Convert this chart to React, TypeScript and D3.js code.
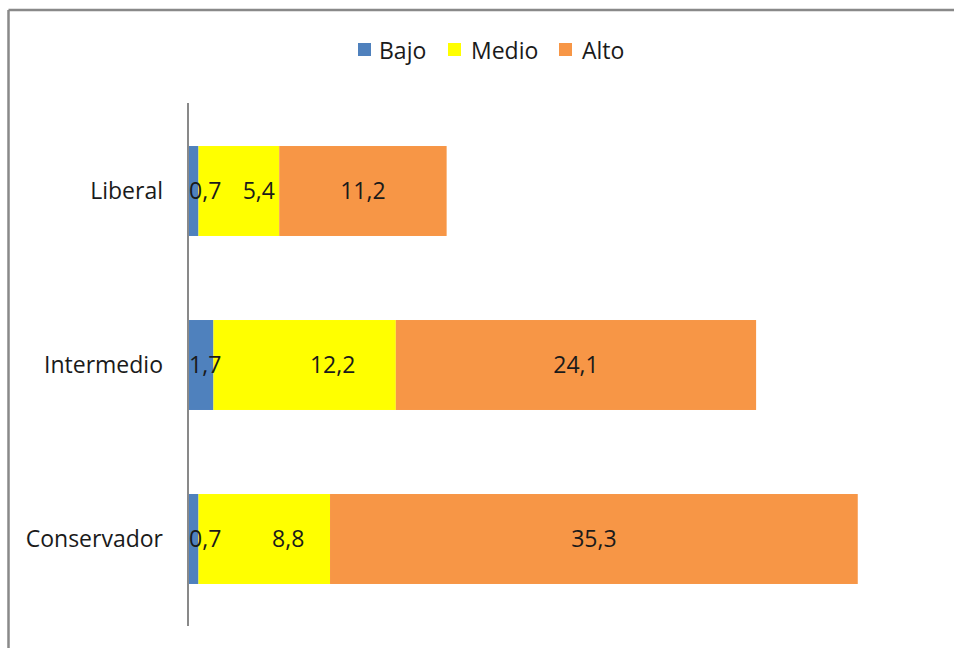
import React from "react";
import * as d3 from "d3";

const categories = ["Liberal", "Intermedio", "Conservador"];
const seriesNames = ["Bajo", "Medio", "Alto"];
const bajo = [0.7, 1.7, 0.7];
const medio = [5.4, 12.2, 8.8];
const alto = [11.2, 24.1, 35.3];
const colors = ["#4F81BD", "#FFFF00", "#F79646"];
// label horizontal nudges (px) per series per category, mimicking the source placement
const labelNudge = [
  [0, 0, 0],
  [20, 28, 24],
  [0, 0, 0],
];

const W = 954;
const H = 648;
const FONT = "'Open Sans', 'Noto Sans', sans-serif";

export default function App() {
  const values = [bajo, medio, alto];
  const rows = categories.map((c, i) => {
    const r: any = { cat: c };
    seriesNames.forEach((s, j) => (r[s] = values[j][i]));
    return r;
  });
  const stack = d3.stack<any>().keys(seriesNames)(rows);

  const x = d3.scaleLinear().domain([0, 50]).range([188, 935.5]);
  const y = d3
    .scaleBand()
    .domain(categories)
    .range([104, 626])
    .paddingInner(0.483)
    .paddingOuter(0.2415);

  const fmt = (v: number) => v.toFixed(1).replace(".", ",");
  const fs = 23;
  const charW = fs * 0.5;
  const dy = -1.5;

  const legendItems = [
    { x: 358, tx: 379 },
    { x: 448, tx: 471 },
    { x: 559, tx: 582 },
  ];

  return (
    <svg
      width={W}
      height={H}
      style={{ position: "absolute", left: 0, top: 0, display: "block", background: "#fff" }}
      fontFamily={FONT}
    >
      <rect x={0} y={0} width={W} height={H} fill="#fff" />
      {/* frame */}
      <line x1={8.5} x2={W} y1={10} y2={10} stroke="#898989" strokeWidth={2.5} />
      <line x1={8.5} x2={8.5} y1={10} y2={H} stroke="#898989" strokeWidth={2.5} />

      {/* legend */}
      {seriesNames.map((s, j) => (
        <g key={s}>
          <rect x={legendItems[j].x} y={43} width={13} height={13} fill={colors[j]} />
          <text
            x={legendItems[j].tx}
            y={49.5}
            fontSize={fs}
            dominantBaseline="central"
            fill="#1a1a1a"
          >
            {s}
          </text>
        </g>
      ))}

      {/* bars */}
      {stack.map((layer, j) =>
        layer.map((d, i) => (
          <rect
            key={`${j}-${i}`}
            x={x(d[0])}
            y={y(categories[i])!}
            width={x(d[1]) - x(d[0])}
            height={y.bandwidth()}
            fill={colors[j]}
          />
        ))
      )}

      {/* labels */}
      {stack.map((layer, j) =>
        layer.map((d, i) => {
          const label = fmt(values[j][i]);
          const w = label.length * charW;
          let cx = (x(d[0]) + x(d[1])) / 2;
          if (cx - w / 2 < x(0)) cx = x(0) + w / 2;
          cx += labelNudge[j][i];
          return (
            <text
              key={`l${j}-${i}`}
              x={cx}
              y={y(categories[i])! + y.bandwidth() / 2 + dy}
              fontSize={fs}
              textAnchor="middle"
              dominantBaseline="central"
              fill="#1a1a1a"
            >
              {label}
            </text>
          );
        })
      )}

      {/* axis */}
      <line x1={188} x2={188} y1={103} y2={626} stroke="#898989" strokeWidth={2} />
      {categories.map((c) => (
        <text
          key={c}
          x={163}
          y={y(c)! + y.bandwidth() / 2 + dy}
          fontSize={fs}
          textAnchor="end"
          dominantBaseline="central"
          fill="#1a1a1a"
        >
          {c}
        </text>
      ))}
    </svg>
  );
}
